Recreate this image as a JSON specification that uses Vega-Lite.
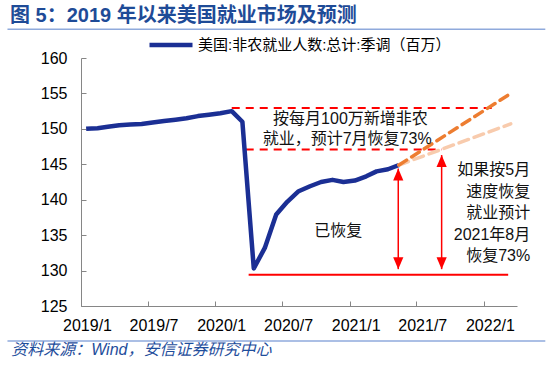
{
  "$schema": "https://vega.github.io/schema/vega-lite/v6.json",
  "width": 436,
  "height": 248,
  "autosize": {"type": "none"},
  "padding": {"left": 81, "top": 58, "right": 33, "bottom": 63},
  "background": "white",
  "config": {
    "view": {"stroke": null},
    "font": "Liberation Sans, Noto Sans CJK SC",
    "text": {"font": "Liberation Sans, Noto Sans CJK SC"}
  },
  "title": {
    "text": "图 5：2019 年以来美国就业市场及预测",
    "anchor": "start",
    "frame": "group",
    "orient": "top",
    "offset": 0,
    "dx": -71,
    "dy": 15,
    "baseline": "middle",
    "fontSize": 20,
    "fontWeight": "bold",
    "color": "#1E4B97",
    "font": "Liberation Sans, Noto Sans CJK SC"
  },
  "datasets": {
    "payrolls": [
      {"month": "2019-01-15", "value": 150.0},
      {"month": "2019-02-15", "value": 150.1},
      {"month": "2019-03-15", "value": 150.3},
      {"month": "2019-04-15", "value": 150.5},
      {"month": "2019-05-15", "value": 150.6},
      {"month": "2019-06-15", "value": 150.7},
      {"month": "2019-07-15", "value": 150.9},
      {"month": "2019-08-15", "value": 151.1},
      {"month": "2019-09-15", "value": 151.3},
      {"month": "2019-10-15", "value": 151.5},
      {"month": "2019-11-15", "value": 151.8},
      {"month": "2019-12-15", "value": 152.0},
      {"month": "2020-01-15", "value": 152.2},
      {"month": "2020-02-15", "value": 152.5},
      {"month": "2020-03-15", "value": 151.0},
      {"month": "2020-04-15", "value": 130.3},
      {"month": "2020-05-15", "value": 133.2},
      {"month": "2020-06-15", "value": 137.9},
      {"month": "2020-07-15", "value": 139.7},
      {"month": "2020-08-15", "value": 141.2},
      {"month": "2020-09-15", "value": 141.9},
      {"month": "2020-10-15", "value": 142.5},
      {"month": "2020-11-15", "value": 142.8},
      {"month": "2020-12-15", "value": 142.5},
      {"month": "2021-01-15", "value": 142.7},
      {"month": "2021-02-15", "value": 143.3},
      {"month": "2021-03-15", "value": 144.0},
      {"month": "2021-04-15", "value": 144.3},
      {"month": "2021-05-15", "value": 144.9}
    ],
    "fast": [
      {"month": "2021-05-15", "value": 144.9},
      {"month": "2022-03-15", "value": 155.0}
    ],
    "slow": [
      {"month": "2021-05-15", "value": 144.9},
      {"month": "2022-03-15", "value": 150.7}
    ],
    "targetLevels": [
      {"month": "2020-02-15", "month2": "2022-01-28", "value": 152.95},
      {"month": "2020-03-24", "month2": "2021-09-09", "value": 147.1}
    ],
    "troughLevel": [
      {"month": "2020-04-01", "month2": "2022-03-08", "value": 129.4}
    ],
    "arrows": [
      {"month": "2021-05-13", "value": 130.2, "value2": 144.4},
      {"month": "2021-09-08", "value": 130.2, "value2": 146.3}
    ],
    "arrowTops": [
      {"month": "2021-05-13", "value": 144.4},
      {"month": "2021-09-08", "value": 146.3}
    ],
    "arrowBottoms": [
      {"month": "2021-05-13", "value": 130.2},
      {"month": "2021-09-08", "value": 130.2}
    ],
    "centerNotes": [
      {"text": "按每月100万新增非农", "month": "2021-01-03", "value": 151.33},
      {"text": "就业，预计7月恢复73%", "month": "2020-12-25", "value": 148.55},
      {"text": "已恢复", "month": "2020-12-01", "value": 135.6}
    ],
    "rightNotes": [
      {"text": "如果按5月", "month": "2022-05-07", "value": 144.17},
      {"text": "速度恢复", "month": "2022-05-07", "value": 141.13},
      {"text": "就业预计", "month": "2022-05-07", "value": 138.09},
      {"text": "2021年8月", "month": "2022-05-07", "value": 135.06},
      {"text": "恢复73%", "month": "2022-05-07", "value": 132.02}
    ],
    "separators": [
      {"month": "2018-06-15", "month2": "2022-06-17", "value": 164.04},
      {"month": "2018-06-15", "month2": "2022-06-17", "value": 120.06}
    ],
    "source": [
      {"text": "资料来源：Wind，安信证券研究中心", "month": "2018-06-25", "value": 118.74}
    ]
  },
  "encoding": {
    "x": {
      "field": "month",
      "type": "temporal",
      "scale": {"type": "utc", "domain": [{"year": 2019, "month": 1, "date": 1, "utc": true}, {"year": 2022, "month": 4, "date": 1, "utc": true}]},
      "axis": {
        "title": null,
        "grid": false,
        "values": [
          {"year": 2019, "month": 1, "date": 1, "utc": true},
          {"year": 2019, "month": 7, "date": 1, "utc": true},
          {"year": 2020, "month": 1, "date": 1, "utc": true},
          {"year": 2020, "month": 7, "date": 1, "utc": true},
          {"year": 2021, "month": 1, "date": 1, "utc": true},
          {"year": 2021, "month": 7, "date": 1, "utc": true},
          {"year": 2022, "month": 1, "date": 1, "utc": true}
        ],
        "labelExpr": "utcFormat(datum.value, '%Y/%-m')",
        "labelOffset": 6,
        "labelFlush": false,
        "labelOverlap": false,
        "tickSize": -5,
        "labelPadding": 16,
        "labelFontSize": 16,
        "labelColor": "#000000",
        "labelFont": "Liberation Sans",
        "domainColor": "#868686",
        "tickColor": "#868686"
      }
    },
    "y": {
      "field": "value",
      "type": "quantitative",
      "scale": {"domain": [125, 160], "nice": false, "zero": false},
      "axis": {
        "title": null,
        "grid": false,
        "values": [125, 130, 135, 140, 145, 150, 155, 160],
        "labelOverlap": false,
        "labelFlush": false,
        "tickSize": -5,
        "labelPadding": 19,
        "labelFontSize": 16,
        "labelColor": "#000000",
        "labelFont": "Liberation Sans",
        "domainColor": "#868686",
        "tickColor": "#868686"
      }
    }
  },
  "layer": [
    {
      "data": {"name": "targetLevels"},
      "mark": {"type": "rule", "color": "#FF0000", "strokeWidth": 2, "strokeDash": [8, 6]},
      "encoding": {"x2": {"field": "month2"}}
    },
    {
      "data": {"name": "troughLevel"},
      "mark": {"type": "rule", "color": "#FF0000", "strokeWidth": 2},
      "encoding": {"x2": {"field": "month2"}}
    },
    {
      "data": {"name": "payrolls"},
      "mark": {"type": "line", "strokeWidth": 4.5, "strokeJoin": "round"},
      "encoding": {
        "color": {
          "datum": "美国:非农就业人数:总计:季调（百万）",
          "type": "nominal",
          "scale": {"range": ["#1B2F94"]},
          "legend": {
            "orient": "none",
            "legendX": 66,
            "legendY": -37,
            "title": null,
            "symbolType": "stroke",
            "symbolSize": 1849,
            "symbolStrokeWidth": 4.5,
            "labelFontSize": 15,
            "labelLimit": 0,
            "labelFont": "Liberation Sans, Noto Sans CJK SC",
            "labelColor": "#000000",
            "padding": 0,
            "labelOffset": 3,
            "symbolOffset": 0
          }
        }
      }
    },
    {
      "data": {"name": "slow"},
      "mark": {"type": "line", "color": "#F8CBAD", "strokeWidth": 3.5, "strokeDash": [10, 6], "strokeCap": "round"}
    },
    {
      "data": {"name": "fast"},
      "mark": {"type": "line", "color": "#ED7D31", "strokeWidth": 3.5, "strokeDash": [9, 6], "strokeCap": "round"}
    },
    {
      "data": {"name": "arrows"},
      "mark": {"type": "rule", "color": "#FF0000", "strokeWidth": 1.5},
      "encoding": {"y2": {"field": "value2"}}
    },
    {
      "data": {"name": "arrowTops"},
      "mark": {"type": "point", "shape": "M0,0L-0.85,2L0.85,2Z", "filled": true, "size": 144, "color": "#FF0000", "opacity": 1, "strokeWidth": 0}
    },
    {
      "data": {"name": "arrowBottoms"},
      "mark": {"type": "point", "shape": "M0,0L-0.85,-2L0.85,-2Z", "filled": true, "size": 144, "color": "#FF0000", "opacity": 1, "strokeWidth": 0}
    },
    {
      "data": {"name": "centerNotes"},
      "mark": {"type": "text", "align": "center", "baseline": "middle", "fontSize": 16, "color": "#111111"},
      "encoding": {"text": {"field": "text"}}
    },
    {
      "data": {"name": "rightNotes"},
      "mark": {"type": "text", "align": "right", "baseline": "middle", "fontSize": 16, "color": "#111111"},
      "encoding": {"text": {"field": "text"}}
    },
    {
      "data": {"name": "separators"},
      "mark": {"type": "rule", "color": "#8FAADC", "strokeWidth": 1.5},
      "encoding": {"x2": {"field": "month2"}}
    },
    {
      "data": {"name": "source"},
      "mark": {"type": "text", "align": "left", "baseline": "middle", "fontSize": 16, "fontStyle": "italic", "color": "#1F4E9C"},
      "encoding": {"text": {"field": "text"}}
    }
  ]
}
